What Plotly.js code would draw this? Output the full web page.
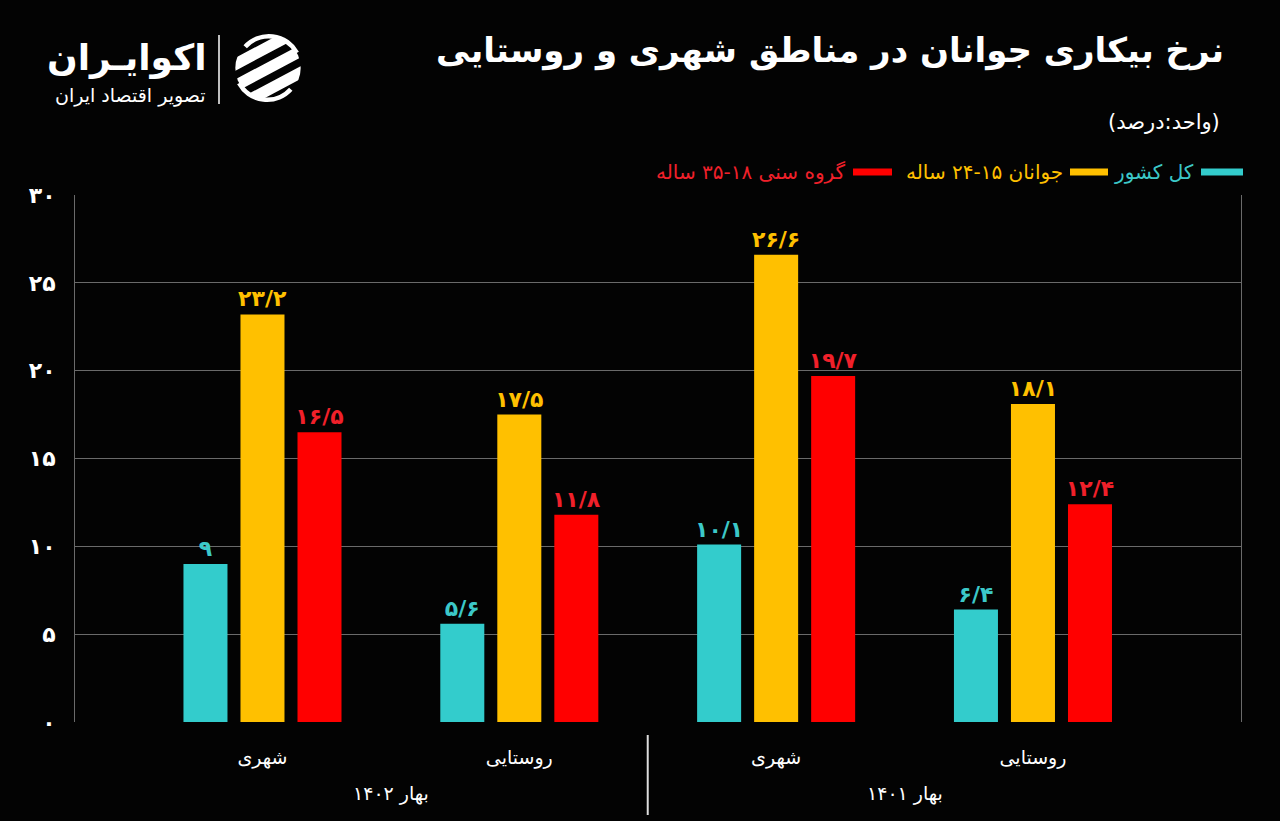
<!DOCTYPE html>
<html>
<head>
<meta charset="utf-8">
<script src="https://cdn.plot.ly/plotly-3.0.1.min.js"></script>
<style>
  html, body { margin: 0; padding: 0; background: #030303; }
  #chart { width: 1280px; height: 821px; }
</style>
</head>
<body>
<div id="chart"></div>
<script>
// ---------- data ----------
const areas = ['شهری', 'روستایی', 'شهری', 'روستایی'];
const periods = ['بهار ۱۴۰۲', 'بهار ۱۴۰۲', 'بهار ۱۴۰۱', 'بهار ۱۴۰۱'];
const seriesNames = ['کل کشور', 'جوانان ۱۵-۲۴ ساله', 'گروه سنی ۱۸-۳۵ ساله'];
const totalValues = [9, 5.6, 10.1, 6.4];
const youth1524Values = [23.2, 17.5, 26.6, 18.1];
const age1835Values = [16.5, 11.8, 19.7, 12.4];
const yTicks = [0, 5, 10, 15, 20, 25, 30];

const titleText = 'نرخ بیکاری جوانان در مناطق شهری و روستایی';
const unitText = '(واحد:درصد)';
const brandName = 'اکوایـران';
const brandTagline = 'تصویر اقتصاد ایران';

// ---------- styling ----------
const barColors = ['#33CCCC', '#FFC000', '#FF0000'];
const labelColors = ['#3CC8C8', '#FFC000', '#F0202A'];
const FONT = 'DejaVu Sans, sans-serif';

const toFa = v => String(v).replace('.', '/').replace(/\d/g, d => '۰۱۲۳۴۵۶۷۸۹'[d]);

const xKeys = areas.map((a, i) => a + ' ' + periods[i] + ' #' + i);
const seriesValues = [totalValues, youth1524Values, age1835Values];

// plot-area geometry (pixels) used for placing decorations
const L = 75, R = 39, T = 195, B = 99, W = 1280, H = 821;
const PW = W - L - R, PH = H - T - B;
const px = x => (x - L) / PW;
const py = y => (H - B - y) / PH;

const traces = seriesValues.map((vals, i) => ({
  type: 'bar',
  name: seriesNames[i],
  x: xKeys,
  y: vals,
  marker: { color: barColors[i], line: { width: 0 } },
  text: vals.map(toFa),
  textposition: 'outside',
  texttemplate: '%{text}',
  textfont: { family: FONT, size: 22, color: labelColors[i], weight: 'bold' },
  constraintext: 'none',
  cliponaxis: false,
  hoverinfo: 'skip',
  showlegend: false
}));

const annotations = [];
// unit
annotations.push({
  text: unitText, xref: 'paper', yref: 'paper', x: px(1222), y: py(122),
  xanchor: 'right', yanchor: 'middle', showarrow: false,
  font: { family: FONT, size: 21, color: '#ffffff' }
});
// legend (custom, right-to-left)
const legendTextRight = [1196, 1065, 848];
legendTextRight.forEach((r, i) => {
  annotations.push({
    text: seriesNames[i], xref: 'paper', yref: 'paper', x: px(r), y: py(172),
    xanchor: 'right', yanchor: 'middle', showarrow: false,
    font: { family: FONT, size: 20, color: labelColors[i] }
  });
});
// period labels under groups
const periodGroups = [[0, 1], [2, 3]];
periodGroups.forEach(g => {
  annotations.push({
    text: periods[g[0]], xref: 'x', yref: 'paper', x: (g[0] + g[1]) / 2, y: py(793),
    xanchor: 'center', yanchor: 'middle', showarrow: false,
    font: { family: FONT, size: 19, color: '#ffffff' }
  });
});
// brand
annotations.push({
  text: '<b>' + brandName + '</b>', xref: 'paper', yref: 'paper', x: px(208), y: py(58),
  xanchor: 'right', yanchor: 'middle', showarrow: false,
  font: { family: FONT, size: 36, color: '#ffffff' }
});
annotations.push({
  text: brandTagline, xref: 'paper', yref: 'paper', x: px(208), y: py(95),
  xanchor: 'right', yanchor: 'middle', showarrow: false,
  font: { family: FONT, size: 19, color: '#ffffff' }
});

const shapes = [];
const swatches = [[1201, 1243], [1070, 1108], [853, 892]];
swatches.forEach((s, i) => {
  shapes.push({
    type: 'rect', xref: 'paper', yref: 'paper',
    x0: px(s[0]), x1: px(s[1]), y0: py(175.5), y1: py(168.5),
    fillcolor: barColors[i], line: { width: 0 }
  });
});
// divider between periods
shapes.push({
  type: 'line', xref: 'x', yref: 'paper', x0: 1.5, x1: 1.5,
  y0: py(735), y1: py(815), line: { color: '#dddddd', width: 2 }
});
// brand divider
shapes.push({
  type: 'line', xref: 'paper', yref: 'paper', x0: px(219), x1: px(219),
  y0: py(35), y1: py(104), line: { color: '#ffffff', width: 1.5 }
});

const iconSvg = "<svg xmlns='http://www.w3.org/2000/svg' viewBox='0 0 100 100'>" +
  "<defs><clipPath id='c'><circle cx='50' cy='50' r='43'/></clipPath></defs>" +
  "<g clip-path='url(#c)' fill='white'><g transform='rotate(-28 50 50)'>" +
  "<rect x='-10' y='18' width='120' height='15' rx='7'/>" +
  "<rect x='-10' y='43' width='120' height='15' rx='7'/>" +
  "<rect x='-10' y='68' width='120' height='15' rx='7'/></g></g>" +
  "<path d='M 20 22 A 42 42 0 0 1 88 30' fill='none' stroke='white' stroke-width='6'/>" +
  "<path d='M 80 78 A 42 42 0 0 1 12 70' fill='none' stroke='white' stroke-width='6'/>" +
  "</svg>";

const layout = {
  width: W, height: H,
  paper_bgcolor: '#030303',
  plot_bgcolor: '#030303',
  margin: { l: L, r: R, t: T, b: B, pad: 0 },
  font: { family: FONT, color: '#ffffff' },
  title: {
    text: '<b>' + titleText + '</b>',
    x: 1224 / W, xanchor: 'right', xref: 'container',
    y: 1 - 50 / H, yanchor: 'middle', yref: 'container',
    font: { family: FONT, size: 34, color: '#ffffff' }
  },
  barmode: 'group',
  bargap: 0.334,
  bargroupgap: 0.228,
  xaxis: {
    type: 'category',
    range: [-0.73, 3.81],
    tickvals: xKeys,
    ticktext: areas,
    ticks: '',
    showgrid: false,
    zeroline: false,
    showline: false,
    ticklabelstandoff: 22,
    tickfont: { family: FONT, size: 19, color: '#ffffff' },
    fixedrange: true
  },
  yaxis: {
    range: [0, 30],
    tickvals: yTicks,
    ticktext: yTicks.map(toFa),
    ticks: '',
    showgrid: true,
    gridcolor: '#6a6a6a',
    gridwidth: 1,
    zeroline: false,
    showline: true,
    mirror: true,
    linecolor: '#6a6a6a',
    linewidth: 1,
    ticklabelstandoff: 14,
    tickfont: { family: FONT, size: 22, color: '#ffffff', weight: 'bold' },
    fixedrange: true
  },
  annotations: annotations,
  shapes: shapes,
  images: [{
    source: 'data:image/svg+xml;utf8,' + encodeURIComponent(iconSvg),
    xref: 'paper', yref: 'paper',
    x: px(230), y: py(30), sizex: 76 / PW, sizey: 76 / PH,
    xanchor: 'left', yanchor: 'top', sizing: 'stretch', layer: 'above'
  }],
  showlegend: false
};

Plotly.newPlot('chart', traces, layout, { displayModeBar: false, staticPlot: true });
</script>
</body>
</html>
